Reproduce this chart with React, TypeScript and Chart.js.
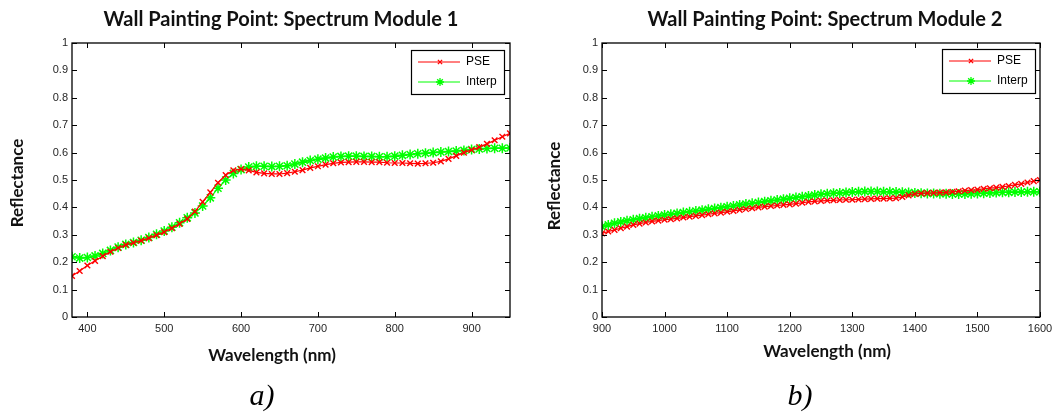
import React, { useEffect, useRef } from "react";
import { Chart, registerables } from "chart.js";

Chart.register(...registerables);

// ---------- DATA ----------
const wavelengths1 = [
  380, 390, 400, 410, 420, 430, 440, 450, 460, 470, 480, 490, 500, 510, 520, 530, 540, 550, 560, 570,
  580, 590, 600, 610, 620, 630, 640, 650, 660, 670, 680, 690, 700, 710, 720, 730, 740, 750, 760, 770,
  780, 790, 800, 810, 820, 830, 840, 850, 860, 870, 880, 890, 900, 910, 920, 930, 940, 950,
];
const pse1 = [
  0.150, 0.168, 0.188, 0.205, 0.222, 0.238, 0.252, 0.263, 0.271, 0.279, 0.288, 0.299, 0.310, 0.324, 0.340, 0.358, 0.385, 0.420, 0.455, 0.490,
  0.518, 0.535, 0.540, 0.535, 0.528, 0.524, 0.522, 0.522, 0.525, 0.530, 0.536, 0.544, 0.550, 0.556, 0.561, 0.564, 0.565, 0.566, 0.566, 0.565,
  0.565, 0.563, 0.562, 0.562, 0.561, 0.560, 0.561, 0.563, 0.568, 0.577, 0.588, 0.600, 0.610, 0.620, 0.632, 0.645, 0.658, 0.670,
];
const interp1 = [
  0.220, 0.215, 0.217, 0.223, 0.232, 0.243, 0.255, 0.265, 0.272, 0.280, 0.290, 0.302, 0.314, 0.328, 0.344, 0.362, 0.380, 0.405, 0.435, 0.470,
  0.500, 0.524, 0.538, 0.547, 0.550, 0.550, 0.549, 0.550, 0.552, 0.558, 0.565, 0.571, 0.576, 0.580, 0.584, 0.586, 0.587, 0.587, 0.586, 0.586,
  0.585, 0.585, 0.587, 0.590, 0.593, 0.596, 0.598, 0.600, 0.602, 0.604, 0.606, 0.608, 0.611, 0.613, 0.615, 0.616, 0.616, 0.617,
];

const wavelengths2 = [
  900, 910, 920, 930, 940, 950, 960, 970, 980, 990, 1000, 1010, 1020, 1030, 1040, 1050, 1060, 1070, 1080, 1090,
  1100, 1110, 1120, 1130, 1140, 1150, 1160, 1170, 1180, 1190, 1200, 1210, 1220, 1230, 1240, 1250, 1260, 1270, 1280, 1290,
  1300, 1310, 1320, 1330, 1340, 1350, 1360, 1370, 1380, 1390, 1400, 1410, 1420, 1430, 1440, 1450, 1460, 1470, 1480, 1490,
  1500, 1510, 1520, 1530, 1540, 1550, 1560, 1570, 1580, 1590, 1600,
];
const pse2 = [
  0.305, 0.312, 0.318, 0.324, 0.330, 0.336, 0.341, 0.345, 0.349, 0.352, 0.355, 0.357, 0.360, 0.363, 0.366, 0.369, 0.372, 0.375, 0.378, 0.381,
  0.384, 0.387, 0.391, 0.394, 0.397, 0.400, 0.403, 0.405, 0.407, 0.409, 0.411, 0.414, 0.417, 0.420, 0.422, 0.424, 0.425, 0.426, 0.427, 0.428,
  0.428, 0.429, 0.430, 0.431, 0.432, 0.432, 0.433, 0.434, 0.438, 0.444, 0.449, 0.451, 0.452, 0.453, 0.454, 0.455, 0.457, 0.459, 0.461, 0.463,
  0.465, 0.468, 0.470, 0.472, 0.475, 0.478, 0.482, 0.486, 0.491, 0.496, 0.500,
];
const interp2 = [
  0.330, 0.336, 0.342, 0.347, 0.351, 0.355, 0.359, 0.362, 0.366, 0.369, 0.372, 0.375, 0.378, 0.381, 0.384, 0.387, 0.390, 0.393, 0.396, 0.399,
  0.402, 0.405, 0.409, 0.412, 0.415, 0.418, 0.421, 0.424, 0.427, 0.430, 0.433, 0.436, 0.439, 0.442, 0.445, 0.448, 0.450, 0.452, 0.453, 0.454,
  0.456, 0.457, 0.458, 0.458, 0.458, 0.457, 0.457, 0.456, 0.455, 0.454, 0.453, 0.452, 0.451, 0.451, 0.450, 0.450, 0.449, 0.449, 0.449, 0.450,
  0.451, 0.452, 0.453, 0.454, 0.455, 0.455, 0.456, 0.456, 0.457, 0.457, 0.457,
];

const xTicks1 = [400, 500, 600, 700, 800, 900];
const xTicks2 = [900, 1000, 1100, 1200, 1300, 1400, 1500, 1600];
const yTicks = [0, 0.1, 0.2, 0.3, 0.4, 0.5, 0.6, 0.7, 0.8, 0.9, 1];
const yTickLabels = ["0", "0.1", "0.2", "0.3", "0.4", "0.5", "0.6", "0.7", "0.8", "0.9", "1"];
const seriesNames = ["PSE", "Interp"];
const titles = ["Wall Painting Point: Spectrum Module 1", "Wall Painting Point: Spectrum Module 2"];
const xAxisTitle = "Wavelength (nm)";
const yAxisTitle = "Reflectance";
const captions = ["a)", "b)"];

const RED = "#ff0000";
const GREEN = "#00ff00";
const TICK_FONT = "'Liberation Sans', Arial, sans-serif";
const TITLE_FONT = "Lato, 'Open Sans', sans-serif";

type Layout = {
  yWidth: number;
  padRight: number;
  titleX: number;
  titleY: number;
  yLabelX: number;
  yLabelY: number;
  xLabelX: number;
  xLabelY: number;
  capX: number;
  capY: number;
  legX: number;
  legY: number;
};

const layouts: Layout[] = [
  { yWidth: 72, padRight: 17, titleX: 281, titleY: 26, yLabelX: 23, yLabelY: 183, xLabelX: 272, xLabelY: 361, capX: 262, capY: 405, legX: 411, legY: 50 },
  { yWidth: 75, padRight: 14, titleX: 298, titleY: 26, yLabelX: 33, yLabelY: 186, xLabelX: 300, xLabelY: 357, capX: 273, capY: 405, legX: 415, legY: 49 },
];

function drawMarker(ctx: CanvasRenderingContext2D, kind: string, x: number, y: number, r: number) {
  ctx.beginPath();
  const d = r * 0.7071;
  ctx.moveTo(x - d, y - d);
  ctx.lineTo(x + d, y + d);
  ctx.moveTo(x - d, y + d);
  ctx.lineTo(x + d, y - d);
  if (kind === "star") {
    ctx.moveTo(x - r, y);
    ctx.lineTo(x + r, y);
    ctx.moveTo(x, y - r);
    ctx.lineTo(x, y + r);
  }
  ctx.stroke();
}

const decorPlugin = {
  id: "panelDecor",
  afterDraw(chart: any, _args: any, opts: any) {
    const L: Layout = opts.layout;
    const ctx: CanvasRenderingContext2D = chart.ctx;
    const a = chart.chartArea;
    const xs = chart.scales.x;
    const ys = chart.scales.y;
    ctx.save();
    // axes box
    ctx.strokeStyle = "#000";
    ctx.lineWidth = 1.3;
    ctx.strokeRect(a.left, a.top, a.right - a.left, a.bottom - a.top);
    // inward ticks
    ctx.lineWidth = 1;
    ctx.beginPath();
    xs.ticks.forEach((t: any) => {
      const px = Math.round(xs.getPixelForValue(t.value)) + 0.5;
      ctx.moveTo(px, a.bottom);
      ctx.lineTo(px, a.bottom - 5);
      ctx.moveTo(px, a.top);
      ctx.lineTo(px, a.top + 5);
    });
    ys.ticks.forEach((t: any) => {
      const py = Math.round(ys.getPixelForValue(t.value)) + 0.5;
      ctx.moveTo(a.left, py);
      ctx.lineTo(a.left + 5, py);
      ctx.moveTo(a.right, py);
      ctx.lineTo(a.right - 5, py);
    });
    ctx.stroke();

    // title
    ctx.fillStyle = "#111";
    ctx.textAlign = "center";
    ctx.textBaseline = "alphabetic";
    ctx.font = `bold 20px ${TITLE_FONT}`;
    ctx.fillText(opts.title, L.titleX, L.titleY);
    // x label
    ctx.font = `bold 17px ${TITLE_FONT}`;
    ctx.fillText(xAxisTitle, L.xLabelX, L.xLabelY);
    // y label
    ctx.save();
    ctx.translate(L.yLabelX, L.yLabelY);
    ctx.rotate(-Math.PI / 2);
    ctx.fillText(yAxisTitle, 0, 0);
    ctx.restore();
    // caption
    ctx.font = `italic 30px 'Liberation Serif', 'Times New Roman', serif`;
    ctx.fillStyle = "#000";
    ctx.fillText(opts.caption, L.capX, L.capY);

    // legend
    const lw = 93, lh = 44;
    ctx.fillStyle = "#fff";
    ctx.fillRect(L.legX, L.legY, lw, lh);
    ctx.strokeStyle = "#000";
    ctx.lineWidth = 1.2;
    ctx.strokeRect(L.legX + 0.5, L.legY + 0.5, lw, lh);
    const entries = [
      { name: seriesNames[0], color: RED, kind: "crossRot", r: 3 },
      { name: seriesNames[1], color: GREEN, kind: "star", r: 4 },
    ];
    entries.forEach((e, i) => {
      const y = L.legY + 12 + i * 20;
      ctx.strokeStyle = e.color;
      ctx.lineWidth = 1;
      ctx.beginPath();
      ctx.moveTo(L.legX + 7, y);
      ctx.lineTo(L.legX + 49, y);
      ctx.stroke();
      ctx.lineWidth = 1.3;
      drawMarker(ctx, e.kind, L.legX + 29, y, e.r);
      ctx.fillStyle = "#000";
      ctx.textAlign = "left";
      ctx.textBaseline = "middle";
      ctx.font = `12px ${TICK_FONT}`;
      ctx.fillText(e.name, L.legX + 55, y);
    });
    ctx.restore();
  },
};

type Panel = {
  x: number[];
  pse: number[];
  interp: number[];
  xMin: number;
  xMax: number;
  xTicks: number[];
  title: string;
  caption: string;
  layout: Layout;
};

const panels: Panel[] = [
  { x: wavelengths1, pse: pse1, interp: interp1, xMin: 380, xMax: 950, xTicks: xTicks1, title: titles[0], caption: captions[0], layout: layouts[0] },
  { x: wavelengths2, pse: pse2, interp: interp2, xMin: 900, xMax: 1600, xTicks: xTicks2, title: titles[1], caption: captions[1], layout: layouts[1] },
];

function makeConfig(p: Panel): any {
  return {
    type: "line",
    data: {
      datasets: [
        {
          label: seriesNames[0],
          data: p.x.map((x, i) => ({ x, y: p.pse[i] })),
          borderColor: RED,
          backgroundColor: RED,
          borderWidth: 1.2,
          pointStyle: "crossRot",
          pointRadius: 4,
          pointBorderColor: RED,
          pointBorderWidth: 1.4,
          tension: 0,
          fill: false,
        },
        {
          label: seriesNames[1],
          data: p.x.map((x, i) => ({ x, y: p.interp[i] })),
          borderColor: GREEN,
          backgroundColor: GREEN,
          borderWidth: 1.2,
          pointStyle: "star",
          pointRadius: 5,
          pointBorderColor: GREEN,
          pointBorderWidth: 1.5,
          tension: 0,
          fill: false,
        },
      ],
    },
    options: {
      animation: false,
      responsive: false,
      maintainAspectRatio: false,
      devicePixelRatio: 1,
      layout: { padding: { left: 0, right: p.layout.padRight, top: 43, bottom: 0 } },
      plugins: {
        legend: { display: false },
        tooltip: { enabled: false },
        title: { display: false },
        panelDecor: { title: p.title, caption: p.caption, layout: p.layout },
      },
      scales: {
        x: {
          type: "linear",
          min: p.xMin,
          max: p.xMax,
          afterBuildTicks: (s: any) => {
            s.ticks = p.xTicks.map((v) => ({ value: v }));
          },
          afterFit: (s: any) => {
            s.height = 95;
            s.paddingLeft = 0;
            s.paddingRight = 0;
          },
          grid: { display: false, drawTicks: false },
          border: { display: false },
          ticks: {
            autoSkip: false,
            maxRotation: 0,
            padding: 5,
            color: "#262626",
            font: { family: TICK_FONT, size: 11 },
            callback: (v: any) => String(v),
          },
        },
        y: {
          type: "linear",
          min: 0,
          max: 1,
          afterBuildTicks: (s: any) => {
            s.ticks = yTicks.map((v) => ({ value: v }));
          },
          afterFit: (s: any) => {
            s.width = p.layout.yWidth;
            s.paddingTop = 0;
            s.paddingBottom = 0;
          },
          grid: { display: false, drawTicks: false },
          border: { display: false },
          ticks: {
            autoSkip: false,
            padding: 4,
            color: "#262626",
            font: { family: TICK_FONT, size: 11 },
            callback: (_v: any, i: number) => yTickLabels[i],
          },
        },
      },
    },
    plugins: [decorPlugin],
  };
}

function Panel({ panel, left }: { panel: Panel; left: number }) {
  const ref = useRef<HTMLCanvasElement | null>(null);
  useEffect(() => {
    if (!ref.current) return;
    const chart = new Chart(ref.current, makeConfig(panel));
    return () => chart.destroy();
  }, [panel]);
  return (
    <div style={{ position: "absolute", left, top: 0, width: 527, height: 412 }}>
      <canvas ref={ref} width={527} height={412} style={{ width: 527, height: 412 }} />
    </div>
  );
}

export default function App() {
  return (
    <div style={{ position: "fixed", left: 0, top: 0, width: 1054, height: 412, background: "#fff", overflow: "hidden" }}>
      <Panel panel={panels[0]} left={0} />
      <Panel panel={panels[1]} left={527} />
    </div>
  );
}
